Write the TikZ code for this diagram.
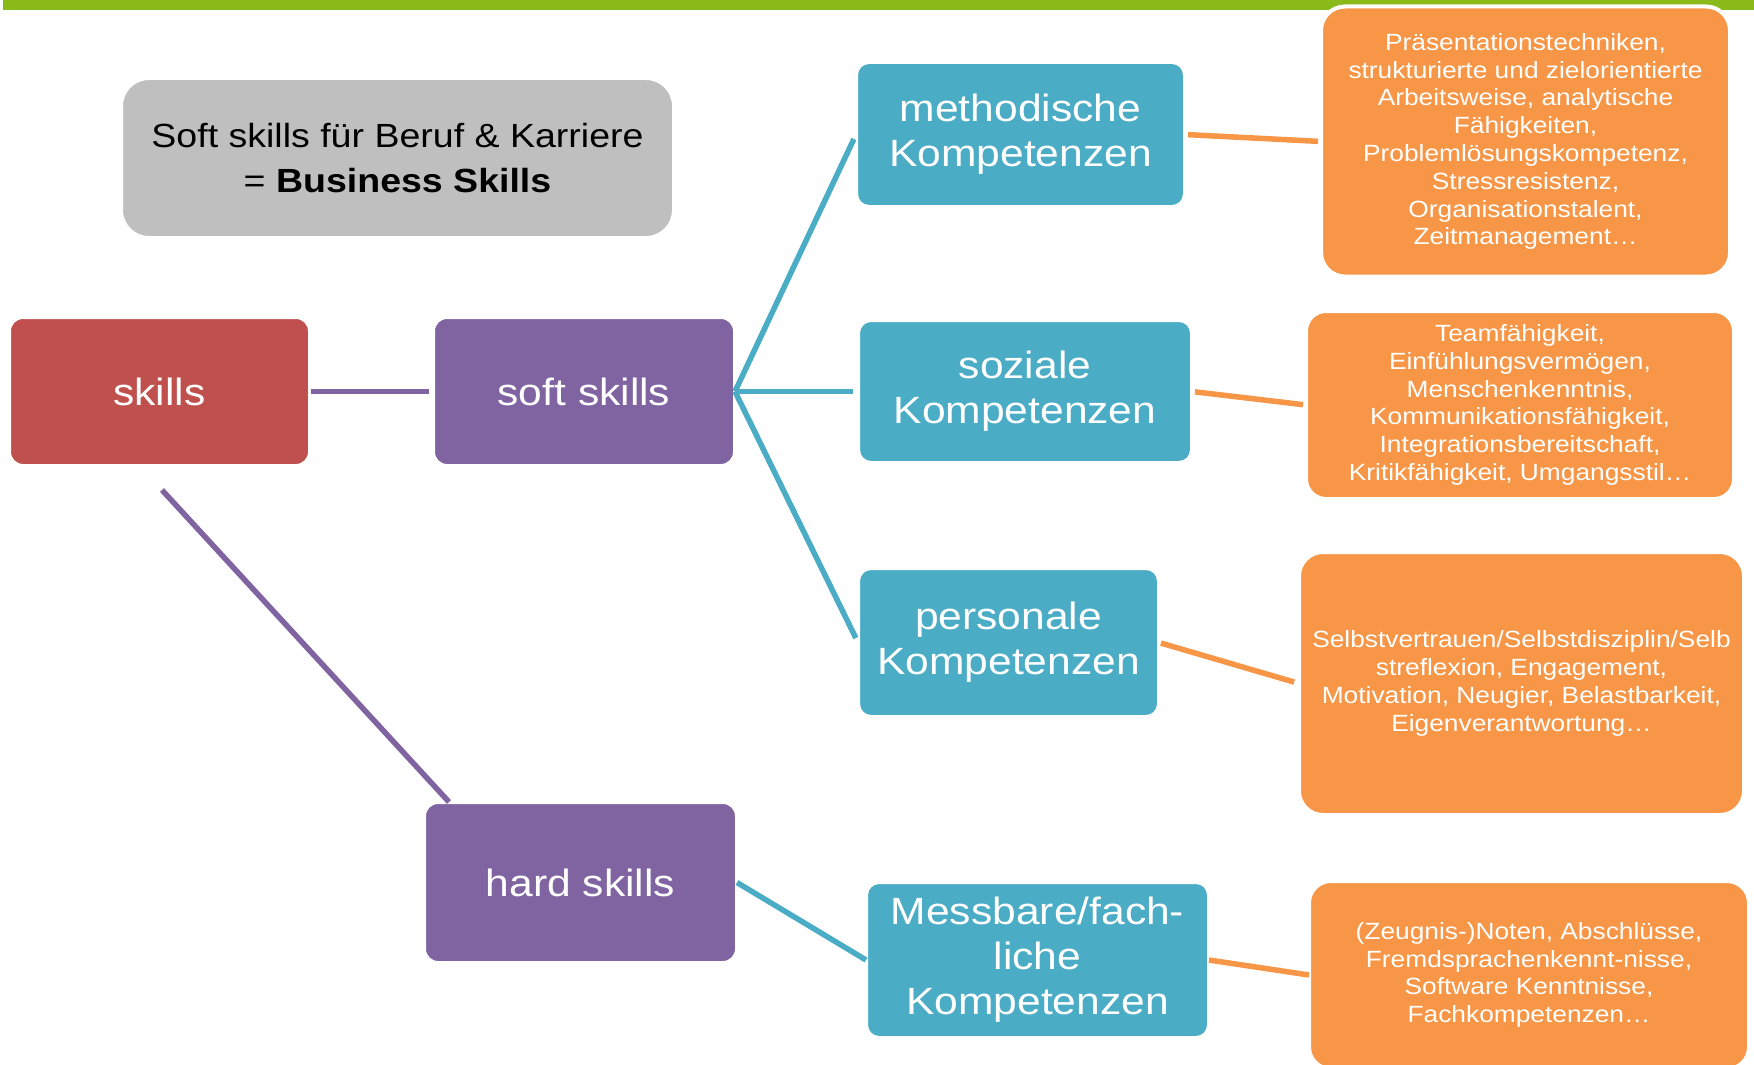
\documentclass[tikz,border=0pt]{standalone}
\usepackage{fontspec}
\setmainfont{Liberation Sans}[FakeStretch=1.12]
\definecolor{barGreen}{RGB}{138,186,26}
\definecolor{boxRed}{RGB}{192,80,77}
\definecolor{boxPurple}{RGB}{128,100,162}
\definecolor{boxTeal}{RGB}{75,172,198}
\definecolor{boxOrange}{RGB}{247,150,70}
\definecolor{boxGray}{RGB}{191,191,191}
\begin{document}
\begin{tikzpicture}[x=1pt,y=-1pt,
  box/.style={rectangle, draw=white, line width=4pt, inner sep=0pt, outer sep=0pt, align=center, text=white},
  bigbox/.style={box, font=\fontsize{38}{43}\selectfont, rounded corners=14pt},
  redbox/.style={bigbox, fill=boxRed},
  purplebox/.style={bigbox, fill=boxPurple},
  tealbox/.style={box, fill=boxTeal, font=\fontsize{38}{45}\selectfont, rounded corners=13pt},
  orangebox/.style={box, fill=boxOrange, font=\fontsize{23.5}{27.8}\selectfont, rounded corners=24pt},
  graybox/.style={box, fill=boxGray, text=black, font=\fontsize{33.5}{45}\selectfont, rounded corners=28pt},
  purpleline/.style={draw=boxPurple, line width=5.5pt},
  tealline/.style={draw=boxTeal, line width=5.5pt},
  orangeline/.style={draw=boxOrange, line width=5.5pt}
]
\useasboundingbox[fill=white] (0,0) rectangle (1754,1065);
% top bar
\fill[barGreen] (3,0) rectangle (1754,10);

% nodes
\node[graybox, minimum width=553pt, minimum height=160pt] (title) at (397.5,158) {Soft skills für Beruf \& Karriere\\= \textbf{Business Skills}};
\node[redbox, minimum width=301pt, minimum height=149pt] (skills) at (159.5,391.5) {skills};
\node[purplebox, minimum width=302pt, minimum height=149pt] (soft) at (584,391.5) {soft skills};
\node[purplebox, minimum width=313pt, minimum height=161pt] (hard) at (580.5,882.5) {hard skills};

\node[tealbox, minimum width=329pt, minimum height=145pt] (meth) at (1020.5,134.5) {methodische\\Kompetenzen};
\node[tealbox, minimum width=334pt, minimum height=143pt] (soz) at (1025,391.5) {soziale\\Kompetenzen};
\node[tealbox, minimum width=301pt, minimum height=149pt] (pers) at (1008.5,642.5) {personale\\Kompetenzen};
\node[tealbox, minimum width=343pt, minimum height=156pt] (mess) at (1037.5,960) {Messbare/fach-\\liche\\Kompetenzen};

\node[orangebox, minimum width=409pt, minimum height=270pt] (o1) at (1525.5,141.5) {Präsentationstechniken,\\strukturierte und zielorientierte\\Arbeitsweise, analytische\\Fähigkeiten,\\Problemlösungskompetenz,\\Stressresistenz,\\Organisationstalent,\\Zeitmanagement…};
\node[orangebox, minimum width=428pt, minimum height=188pt, rounded corners=20pt] (o2) at (1520,405) {Teamfähigkeit,\\Einfühlungsvermögen,\\Menschenkenntnis,\\Kommunikationsfähigkeit,\\Integrationsbereitschaft,\\Kritikfähigkeit, Umgangsstil…};
\node[orangebox, minimum width=445pt, minimum height=263pt] (o3) at (1521.5,683.5) {Selbstvertrauen/Selbstdisziplin/Selb\\streflexion, Engagement,\\Motivation, Neugier, Belastbarkeit,\\Eigenverantwortung…};
\node[orangebox, minimum width=440pt, minimum height=188pt, rounded corners=22pt] (o4) at (1529,975) {(Zeugnis-)Noten, Abschlüsse,\\Fremdsprachenkennt-nisse,\\Software Kenntnisse,\\Fachkompetenzen…};

% connectors
\coordinate (hsstart) at ([xshift=2.5pt,yshift=-24pt]skills.south);
\draw[purpleline, shorten <=1pt, shorten >=4pt] (skills.east) -- (soft.west);
\draw[purpleline] (hsstart) -- ([xshift=25pt]hard.north west);

\draw[tealline, shorten >=5pt] (soft.east) -- (meth.west);
\draw[tealline, shorten >=5pt] (soft.east) -- (soz.west);
\draw[tealline, shorten >=5pt] (soft.east) -- (pers.west);
\draw[tealline] (hard.east) -- (mess.west);

\draw[orangeline, shorten <=3pt, shorten >=3pt] (meth.east) -- (o1.west);
\draw[orangeline, shorten <=3pt, shorten >=3pt] (soz.east) -- (o2.west);
\draw[orangeline, shorten <=2pt, shorten >=5pt] (pers.east) -- (o3.west);
\draw[orangeline] (mess.east) -- (o4.west);
\end{tikzpicture}
\end{document}
